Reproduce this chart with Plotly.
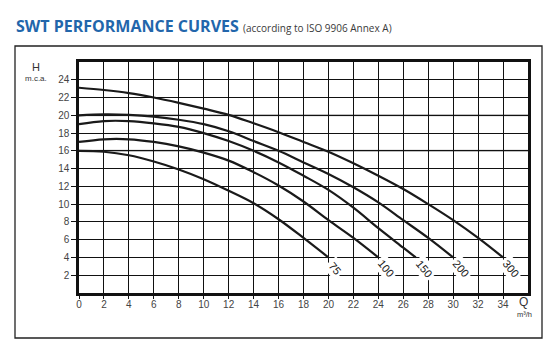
import plotly.graph_objects as go

# ---- data ----
q_75 = [0, 2, 4, 6, 8, 10, 12, 14, 16, 18, 20]
h_75 = [16.0, 15.9, 15.5, 14.8, 13.9, 12.8, 11.5, 10.1, 8.3, 6.2, 4.0]

q_100 = [0, 2, 4, 6, 8, 10, 12, 14, 16, 18, 20, 22, 24]
h_100 = [17.0, 17.3, 17.3, 17.0, 16.5, 15.8, 14.9, 13.6, 12.1, 10.3, 8.2, 6.2, 4.0]

q_150 = [0, 2, 4, 6, 8, 10, 12, 14, 16, 18, 20, 22, 24, 26, 27]
h_150 = [19.0, 19.35, 19.35, 19.1, 18.7, 18.0, 17.1, 16.0, 14.7, 13.2, 11.6, 9.6, 7.3, 5.1, 4.0]

q_200 = [0, 2, 4, 6, 8, 10, 12, 14, 16, 18, 20, 22, 24, 26, 28, 30]
h_200 = [20.0, 20.1, 20.05, 19.85, 19.5, 19.0, 18.2, 17.1, 16.0, 14.7, 13.4, 11.9, 10.2, 8.2, 6.2, 4.0]

q_300 = [0, 2, 4, 6, 8, 10, 12, 14, 16, 18, 20, 22, 24, 26, 28, 30, 32, 34]
h_300 = [23.1, 22.85, 22.5, 22.0, 21.4, 20.75, 20.05, 19.1, 18.1, 17.0, 15.9, 14.6, 13.2, 11.7, 10.0, 8.2, 6.2, 4.0]

curve_names = ["75", "100", "150", "200", "300"]
label_q = [20.5, 24.6, 27.7, 30.6, 34.6]
label_h = [2.8, 2.8, 2.7, 2.8, 2.8]

x_ticks = list(range(0, 35, 2))
y_ticks = list(range(2, 25, 2))
gray_levels = [16, 20]

curves = [(q_75, h_75), (q_100, h_100), (q_150, h_150), (q_200, h_200), (q_300, h_300)]

fig = go.Figure()
for (qq, hh), name in zip(curves, curve_names):
    fig.add_trace(go.Scatter(x=qq, y=hh, mode="lines", name=name,
                             line=dict(color="#1a1a1a", width=2.2, shape="spline", smoothing=1.0),
                             showlegend=False, hoverinfo="skip"))

for lv in gray_levels:
    fig.add_shape(type="line", xref="x", yref="y", x0=0, x1=36, y0=lv, y1=lv,
                  line=dict(color="#a8a8a8", width=2), layer="below")

for name, lq, lh in zip(curve_names, label_q, label_h):
    fig.add_annotation(x=lq, y=lh, xref="x", yref="y", text=name, showarrow=False,
                       textangle=50, font=dict(family="Liberation Sans", size=11, color="#1a1a1a"),
                       bgcolor="white", borderpad=2)

# page body has an 8px default margin: compensate
OFF = 8
W, H = 556 - OFF, 355 - OFF
L, T = 79 - OFF, 62 - OFF
pw, ph = 449, 231
R, B = W - L - pw, H - T - ph

def px(x):
    return (x - OFF - L) / pw

def py(y):
    return (T + ph - (y - OFF)) / ph

def label(x, y, text, size, xa="center", ya="middle", family="Liberation Sans", color="#333"):
    fig.add_annotation(xref="paper", yref="paper", x=px(x), y=py(y), xanchor=xa, yanchor=ya,
                       showarrow=False, text=text, font=dict(family=family, size=size, color=color))

# outer frame
fig.add_shape(type="rect", xref="paper", yref="paper",
              x0=px(15), x1=px(542), y0=py(338), y1=py(46),
              line=dict(color="#222", width=1.3), layer="below")

label(14, 26,
      "<b>SWT PERFORMANCE CURVES</b> <span style='font-size:10px;color:#3a3a3a'>(according to ISO 9906 Annex A)</span>",
      16, xa="left", family="Open Sans", color="#2266ab")
label(36, 67, "H", 11)
label(36, 78, "m.c.a.", 8)
label(523, 302, "Q", 12)
label(524, 314, "m³/h", 7.5)

fig.update_xaxes(range=[0, 36], tickvals=x_ticks, ticktext=[str(v) for v in x_ticks],
                 showgrid=True, gridcolor="#111", gridwidth=1.2,
                 showline=True, linecolor="#111", linewidth=2.5, mirror=True,
                 ticks="outside", ticklen=3, tickcolor="#111", tickwidth=1,
                 ticklabelstandoff=-3,
                 tickfont=dict(family="Liberation Sans", size=10, color="#444"),
                 zeroline=False, fixedrange=True)
fig.update_yaxes(range=[0, 26], tickvals=y_ticks, ticktext=[str(v) for v in y_ticks],
                 showgrid=True, gridcolor="#111", gridwidth=1.2,
                 showline=True, linecolor="#111", linewidth=2.5, mirror=True,
                 ticks="outside", ticklen=5, tickcolor="#111", tickwidth=1,
                 tickfont=dict(family="Liberation Sans", size=10, color="#444"),
                 zeroline=False, fixedrange=True)

fig.update_layout(width=W, height=H, margin=dict(l=L, r=R, t=T, b=B),
                  paper_bgcolor="white", plot_bgcolor="white")

fig.write_html("out.html")
